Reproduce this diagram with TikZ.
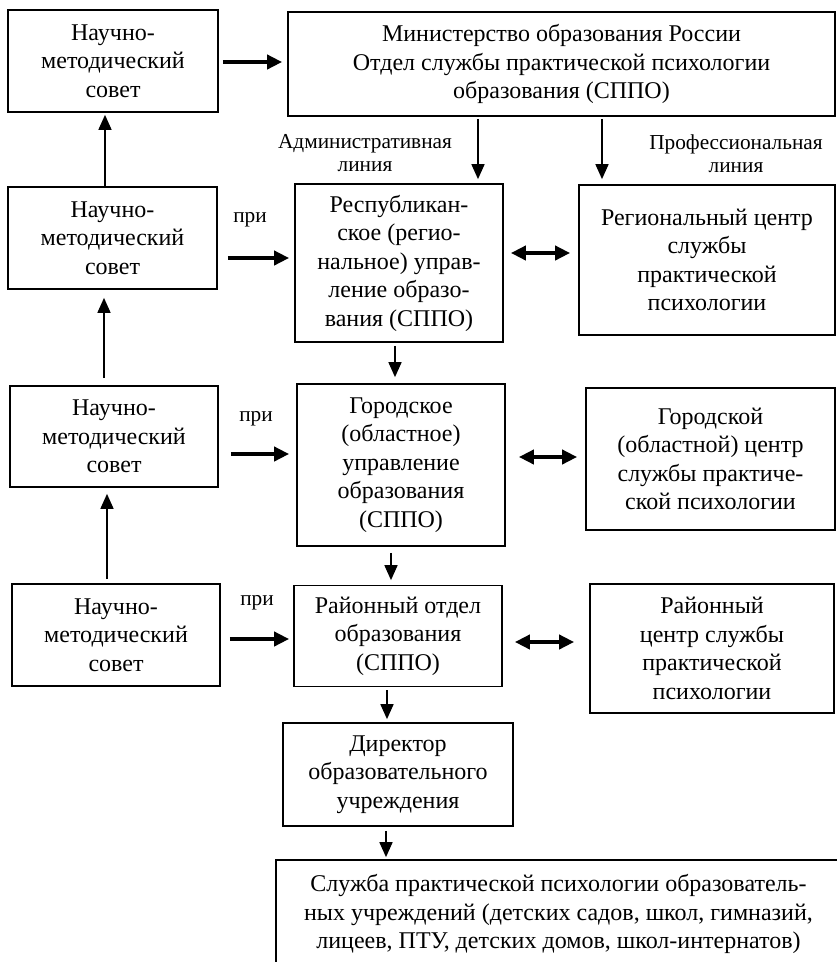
\documentclass[tikz,border=0pt]{standalone}
\usepackage{fontspec}
\setmainfont{Liberation Serif}
\usetikzlibrary{arrows.meta,calc}
\begin{document}
\begin{tikzpicture}[x=1pt,y=-1pt,
 box/.style={draw, line width=1.7pt, align=center, inner sep=0pt, font=\fontsize{24}{28.5}\selectfont},
 lbl/.style={align=center, inner sep=0pt, font=\fontsize{21.3}{23}\selectfont},
 thk/.style={line width=4pt, -{Triangle[length=15pt,width=14pt]}},
 dbl/.style={line width=4pt, {Triangle[length=15pt,width=14pt]}-{Triangle[length=15pt,width=14pt]}},
 thn/.style={line width=1.6pt, -{Triangle[length=15pt,width=13pt]}},
]
\useasboundingbox (0,0) rectangle (837,962);
\clip (0,0) rectangle (837,962);
\fill[white] (0,0) rectangle (837,962);

\node[box, minimum width=210pt, minimum height=102pt] (A1) at (113,61) {Научно-\\методический\\совет};
\node[box, minimum width=547pt, minimum height=104pt] (Min) at (561.5,64) {Министерство образования России\\Отдел службы практической психологии\\образования (СППО)};
\node[box, minimum width=208pt, minimum height=158pt] (Resp) at (399,263) {Республикан-\\ское (регио-\\нальное) управ-\\ление образо-\\вания (СППО)};
\node[box, minimum width=256pt, minimum height=150pt] (RegC) at (707,260) {Региональный центр\\службы\\практической\\психологии};
\node[box, minimum width=209pt, minimum height=102pt] (A2) at (112.5,238) {Научно-\\методический\\совет};
\node[box, minimum width=208pt, minimum height=162pt] (Gor) at (401,465) {Городское\\(областное)\\управление\\образования\\(СППО)};
\node[box, minimum width=208pt, minimum height=101pt] (A3) at (114,436.5) {Научно-\\методический\\совет};
\node[box, minimum width=249pt, minimum height=142pt] (GorC) at (710.5,459) {Городской\\(областной) центр\\службы практиче-\\ской психологии};
\node[box, minimum width=208pt, minimum height=101pt] (Ray) at (398,636) {Районный отдел\\образования\\(СППО)};
\node[box, minimum width=208pt, minimum height=102pt] (A4) at (116,635) {Научно-\\методический\\совет};
\node[box, minimum width=244pt, minimum height=129pt] (RayC) at (712,648.5) {Районный\\центр службы\\практической\\психологии};
\node[box, minimum width=230pt, minimum height=103pt] (Dir) at (398,774.5) {Директор\\образовательного\\учреждения};
\node[box, minimum width=565pt, minimum height=108pt] (Serv) at (558.5,914) {Служба практической психологии образователь-\\ных учреждений (детских садов, школ, гимназий,\\лицеев, ПТУ, детских домов, школ-интернатов)};

\node[lbl] (adm) at (365,153) {Административная\\линия};
\node[lbl] (prof) at (736,154) {Профессиональная\\линия};
\node[lbl] (p1) at (250,220) {при};
\node[lbl] (p2) at (256,419) {при};
\node[lbl] (p3) at (257,603) {при};

% horizontal thick arrows
\draw[thk] ($(A1.east)+(4,1)$) -- ($(Min.west)+(-5,-2)$);
\draw[thk] ($(A2.east)+(10,20)$) -- ($(Resp.west)+(-5,-5)$);
\draw[thk] ($(A3.east)+(12,17.5)$) -- ($(Gor.west)+(-7,-11)$);
\draw[thk] ($(A4.east)+(9,4)$) -- ($(Ray.west)+(-4,3)$);

% double arrows
\draw[dbl] ($(Resp.east)+(7,-10)$) -- ($(RegC.west)+(-8,-7)$);
\draw[dbl] ($(Gor.east)+(13,-8)$) -- ($(GorC.west)+(-8,-2)$);
\draw[dbl] ($(Ray.east)+(12,6)$) -- ($(RayC.west)+(-15,-6.5)$);

% vertical arrows
\draw[thn] ($(A2.north)+(-7.5,0)$) -- ($(A1.south)+(-8,2)$);
\draw[thn] ($(A3.north)+(-10,-7)$) -- ($(A2.south)+(-8.5,8)$);
\draw[thn] ($(A4.north)+(-9,-4)$) -- ($(A3.south)+(-7,6)$);
\draw[thn] ($(Min.south)+(-83.5,2)$) -- ($(Resp.north)+(79,-4)$);
\draw[thn] ($(Min.south)+(40.5,2)$) -- ($(RegC.north)+(-105,-5)$);
\draw[thn] ($(Resp.south)+(-4,3)$) -- ($(Gor.north)+(-6,-6)$);
\draw[thn] ($(Gor.south)+(-10,6)$) -- ($(Ray.north)+(-7,-4.5)$);
\draw[thn] ($(Ray.south)+(-11,3)$) -- ($(Dir.north)+(-11,-3)$);
\draw[thn] ($(Dir.south)+(-12,4)$) -- ($(Serv.north)+(-172.5,-2)$);
\end{tikzpicture}
\end{document}
